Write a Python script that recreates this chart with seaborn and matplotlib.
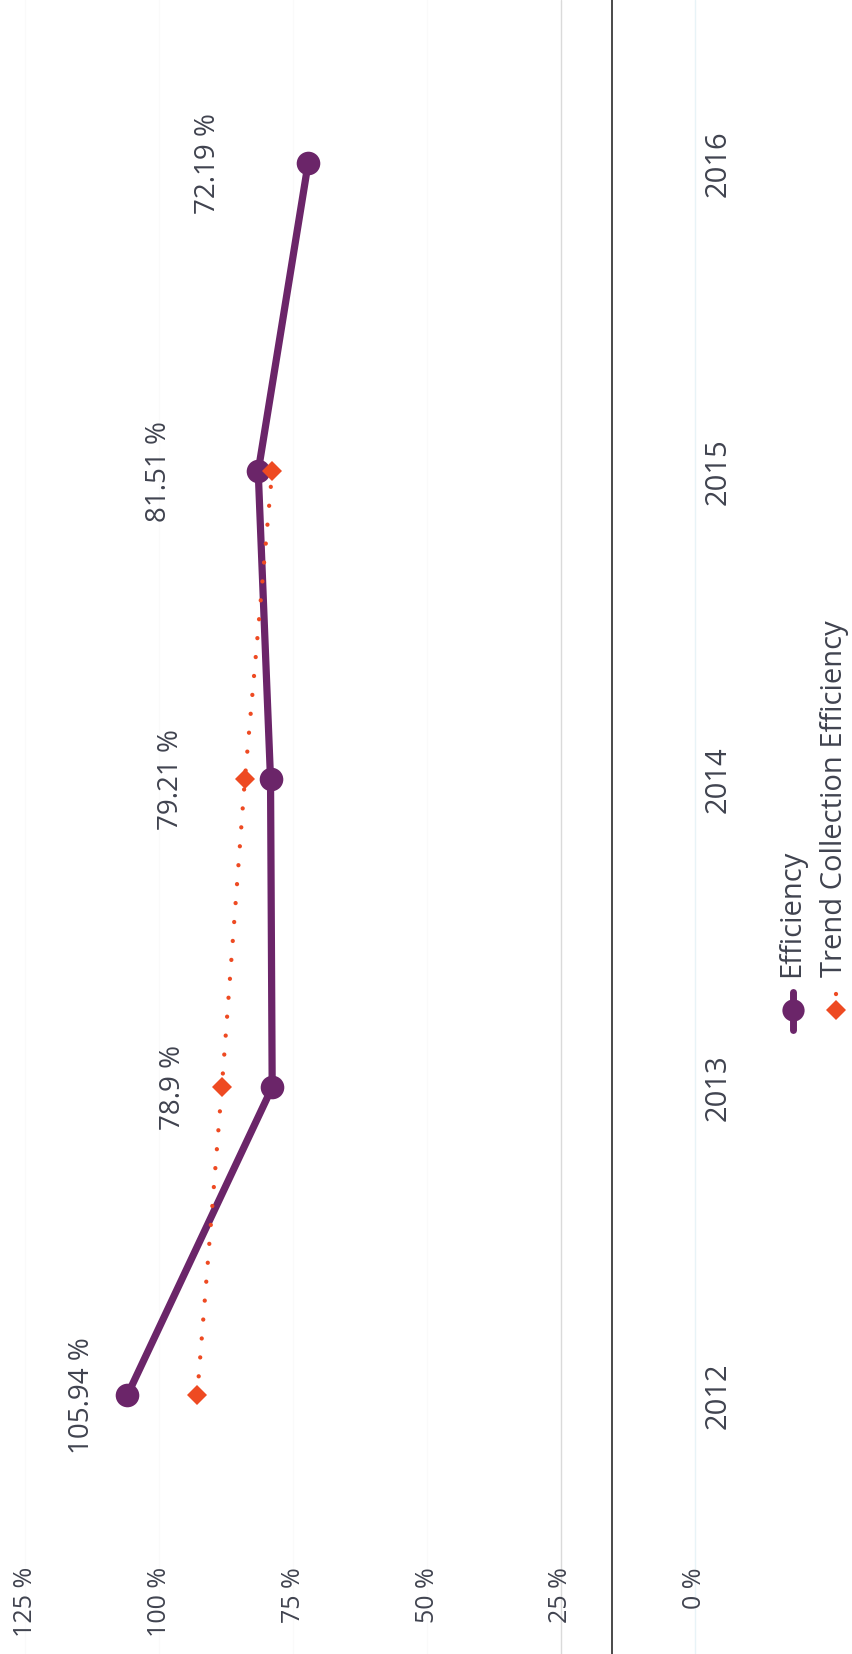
import matplotlib
matplotlib.use("Agg")
import matplotlib.pyplot as plt
import matplotlib.transforms as mtransforms
import seaborn as sns
from matplotlib.lines import Line2D

# ---------------- data ----------------
years = [2012, 2013, 2014, 2015, 2016]
year_labels = ["2012", "2013", "2014", "2015", "2016"]
efficiency = [105.94, 78.90, 79.21, 81.51, 72.19]
efficiency_labels = ["105.94 %", "78.9 %", "79.21 %", "81.51 %", "72.19 %"]
trend_years = [2012, 2013, 2014, 2015]
trend = [92.9, 88.3, 84.0, 78.9]
value_ticks = [0, 25, 50, 75, 100, 125]
value_tick_labels = ["0 %", "25 %", "50 %", "75 %", "100 %", "125 %"]
series_names = ["Efficiency", "Trend Collection Efficiency"]

# ---------------- style ----------------
sns.set_theme(style="white")
plt.rcParams["font.family"] = ["Open Sans", "DejaVu Sans"]

PURPLE = "#6b2569"
ORANGE = "#ee4a22"
TEXT = "#40434f"
DOTS = (0, (0.01, 4.4))

fig = plt.figure(figsize=(8.53, 16.54), dpi=100)
ax = fig.add_axes([0, 0, 1, 1])
ax.set_facecolor("white")

sns.lineplot(x=efficiency, y=years, orient="y", ax=ax, color=PURPLE,
             linewidth=5.2, marker="o", markersize=17, markeredgewidth=0,
             markeredgecolor=PURPLE, zorder=3)
sns.lineplot(x=trend, y=trend_years, orient="y", ax=ax, color=ORANGE,
             linewidth=3.1, linestyle=DOTS, dash_capstyle="round",
             marker="D", markersize=10, markeredgewidth=0,
             markeredgecolor=ORANGE, zorder=4)

ax.set_xlim(129.7, -29.5)
ax.set_ylim(2011.16, 2016.53)
ax.set_xlabel("")
ax.set_ylabel("")

# value axis (horizontal, rotated labels at the bottom)
ax.set_xticks(value_ticks)
ax.set_xticklabels(value_tick_labels, rotation=90, ha="center", va="top",
                   fontsize=18, color=TEXT)
ax.tick_params(axis="x", length=0, pad=-62.6)

# category axis (years, labels drawn near the right-hand side)
ax.set_yticks(years)
ax.tick_params(axis="y", length=0, labelleft=False, labelright=False)
ytrans = mtransforms.blended_transform_factory(ax.transAxes, ax.transData)
for yr, lab in zip(years, year_labels):
    ax.text(718 / 853, yr, lab, transform=ytrans, rotation=90,
            ha="center", va="center", fontsize=21, color=TEXT)

# grid
ax.set_axisbelow(True)
ax.xaxis.grid(True, color="#fafafa", linewidth=1)
ax.yaxis.grid(False)
gl = ax.xaxis.get_gridlines()
gl[0].set_color("#e8f3f7")
gl[1].set_color("#dadada")

for side in ["top", "bottom", "right"]:
    ax.spines[side].set_visible(False)
ax.spines["left"].set_visible(True)
ax.spines["left"].set_position(("data", 15.5))
ax.spines["left"].set_color("#4a4a4a")
ax.spines["left"].set_linewidth(1.4)

# data labels
for v, yr, lab in zip(efficiency, years, efficiency_labels):
    lx = min(v + 18.6, 114.4)
    ax.text(lx, yr, lab, rotation=90, ha="center", va="center",
            fontsize=20, color=TEXT, zorder=5)

# ---------------- legend (rotated, built by hand) ----------------
W, H = 853.0, 1654.0
def fx(px):
    return px / W
def fy(py):
    return 1 - py / H

leg1 = Line2D([fx(793)] * 3, [fy(992), fy(1010), fy(1030)], transform=fig.transFigure,
              color=PURPLE, linewidth=5, marker="o", markersize=16, markevery=[1],
              markeredgewidth=0)
leg2 = Line2D([fx(836)] * 3, [fy(994), fy(1010), fy(1030)], transform=fig.transFigure,
              color=ORANGE, linewidth=3.1, linestyle=DOTS,
              dash_capstyle="round", marker="D", markersize=10, markevery=[1],
              markeredgewidth=0)
fig.add_artist(leg1)
fig.add_artist(leg2)
fig.text(fx(792), fy(977), series_names[0], rotation=90, ha="center", va="bottom",
         fontsize=21, color=TEXT)
fig.text(fx(835), fy(977), series_names[1], rotation=90, ha="center", va="bottom",
         fontsize=21, color=TEXT)

fig.savefig("out.png", dpi=100, facecolor="white")
